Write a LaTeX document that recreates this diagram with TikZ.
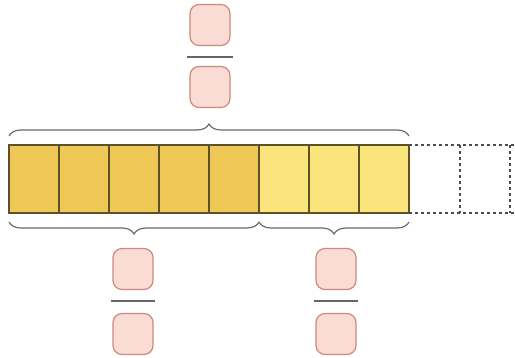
\documentclass[tikz,border=0pt]{standalone}
\usetikzlibrary{decorations.pathreplacing}
\definecolor{gold}{HTML}{F0C858}
\definecolor{lightgold}{HTML}{F9E57C}
\definecolor{cellline}{HTML}{5E5028}
\definecolor{boxfill}{HTML}{FADCD4}
\definecolor{boxline}{HTML}{C98A80}
\definecolor{bracecol}{HTML}{6A6A6A}
\tikzset{
  cell/.style={draw=cellline, line width=1.3pt, minimum width=50pt, minimum height=68pt, inner sep=0pt, outer sep=0pt},
  darkcell/.style={cell, fill=gold},
  lightcell/.style={cell, fill=lightgold},
  ghostline/.style={draw=gray!60!black, line width=1.1pt, dash pattern=on 3pt off 3pt},
  fracbox/.style={draw=boxline, fill=boxfill, line width=1.2pt, rounded corners=9pt, minimum width=40pt, minimum height=41pt, inner sep=0pt},
  fracbar/.style={draw=gray!80!black, line width=1.3pt},
  bracestyle/.style={draw=bracecol, line width=1.2pt, decorate, decoration={brace, amplitude=12pt}}
}
\begin{document}
\begin{tikzpicture}[x=1pt,y=-1pt]
\useasboundingbox (0,0) rectangle (515,358);
% cells
\foreach \i in {0,...,4} { \node[darkcell] (c\i) at (34+50*\i,179) {}; }
\foreach \i in {5,...,7} { \node[lightcell] (c\i) at (34+50*\i,179) {}; }
% dashed continuation
\coordinate (dtop) at (460,145);
\coordinate (dbot) at (460,213);
\coordinate (etop) at (510,145);
\coordinate (ebot) at (510,213);
\coordinate (ftop) at (515,145);
\coordinate (fbot) at (515,213);
\draw[ghostline] (c7.north east) -- (ftop);
\draw[ghostline] (c7.south east) -- (fbot);
\draw[ghostline] (dtop) -- (dbot);
\draw[ghostline] (etop) -- (ebot);
% braces
\coordinate (tl) at (9,136);
\coordinate (tr) at (409,136);
\draw[bracestyle] (tl) -- (tr);
\coordinate (bl) at (9,222);
\coordinate (bm) at (259,222);
\coordinate (br) at (409,222);
\draw[bracestyle] (bm) -- (bl);
\draw[bracestyle] (br) -- (bm);
% fractions
\node[fracbox] (tn) at (210,25) {};
\node[fracbox] (td) at (210,87) {};
\draw[fracbar] (187,57) -- (233,57);
\node[fracbox] (ln) at (133,269) {};
\node[fracbox] (ld) at (133,334) {};
\draw[fracbar] (111,301) -- (155,301);
\node[fracbox] (rn) at (336,269) {};
\node[fracbox] (rd) at (336,334) {};
\draw[fracbar] (314,301) -- (358,301);
\end{tikzpicture}
\end{document}
